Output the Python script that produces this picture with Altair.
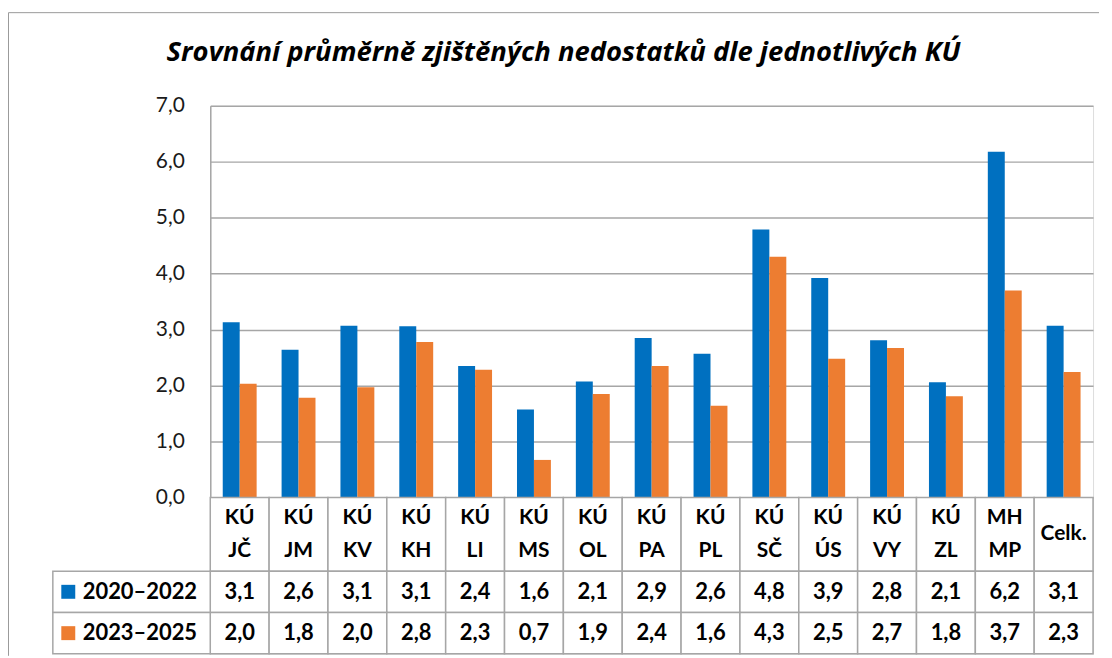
import altair as alt
import pandas as pd

categories = ["KÚ JČ", "KÚ JM", "KÚ KV", "KÚ KH", "KÚ LI", "KÚ MS", "KÚ OL", "KÚ PA",
              "KÚ PL", "KÚ SČ", "KÚ ÚS", "KÚ VY", "KÚ ZL", "MH MP", "Celk."]
series_names = ["2020–2022", "2023–2025"]
values_2020_2022 = [3.13, 2.64, 3.07, 3.06, 2.35, 1.57, 2.07, 2.85, 2.57, 4.79, 3.92, 2.81, 2.06, 6.18, 3.07]
values_2023_2025 = [2.03, 1.78, 1.97, 2.78, 2.28, 0.67, 1.85, 2.35, 1.64, 4.30, 2.48, 2.67, 1.81, 3.70, 2.24]
table_2020_2022 = ["3,1", "2,6", "3,1", "3,1", "2,4", "1,6", "2,1", "2,9", "2,6", "4,8", "3,9", "2,8", "2,1", "6,2", "3,1"]
table_2023_2025 = ["2,0", "1,8", "2,0", "2,8", "2,3", "0,7", "1,9", "2,4", "1,6", "4,3", "2,5", "2,7", "1,8", "3,7", "2,3"]
y_ticks = [0, 1, 2, 3, 4, 5, 6, 7]
colors = ["#0070C0", "#ED7D31"]
title_text = "Srovnání průměrně zjištěných nedostatků dle jednotlivých KÚ"

# layout constants (pixels)
W = 886
PLOT_H = 393
CAT_H = 74
ROWS_H = 83
H = PLOT_H + CAT_H + ROWS_H
LEG_W = 158
LINE_H = 33.5
GRID = "#a6a6a6"
FONT = "Lato"

bar_df = pd.DataFrame(
    [{"cat": c, "series": series_names[0], "value": v} for c, v in zip(categories, values_2020_2022)]
    + [{"cat": c, "series": series_names[1], "value": v} for c, v in zip(categories, values_2023_2025)]
)
tab_df = pd.DataFrame(
    [{"cat": c, "series": series_names[0], "label": t} for c, t in zip(categories, table_2020_2022)]
    + [{"cat": c, "series": series_names[1], "label": t} for c, t in zip(categories, table_2023_2025)]
)
cat_df = pd.DataFrame({"cat": categories})
cat_df["line1"] = [c.split(" ")[0] if " " in c else "" for c in categories]
cat_df["line2"] = [c.split(" ")[1] if " " in c else "" for c in categories]
cat_df["single"] = [c if " " not in c else "" for c in categories]
leg_df = pd.DataFrame({"series": series_names})
one = pd.DataFrame({"title": [title_text]})

color = alt.Color("series:N", sort=series_names,
                  scale=alt.Scale(domain=series_names, range=colors), legend=None)
x_bar = alt.X("cat:N", sort=categories,
              scale=alt.Scale(paddingInner=0.424, paddingOuter=0.212), axis=None)
x_tab = alt.X("cat:N", sort=categories,
              scale=alt.Scale(type="band", paddingInner=0, paddingOuter=0), axis=None)
y_rows = alt.Y("series:N", sort=series_names,
               scale=alt.Scale(type="band", range=[PLOT_H + CAT_H, H], paddingInner=0, paddingOuter=0),
               axis=None)

bars = alt.Chart(bar_df).mark_bar().encode(
    x=x_bar,
    xOffset=alt.XOffset("series:N", sort=series_names,
                        scale=alt.Scale(paddingInner=0, paddingOuter=0)),
    y=alt.Y("value:Q",
            scale=alt.Scale(domain=[0, 7], range=[PLOT_H, 0], nice=False, zero=True),
            axis=alt.Axis(values=y_ticks, title=None, grid=True, gridColor=GRID, gridWidth=1.5,
                          domain=True, domainColor=GRID, domainWidth=1.5,
                          ticks=False, tickSize=0, labelPadding=26,
                          labelFont=FONT, labelFontSize=21, labelColor="#1a1a1a",
                          labelExpr="replace(format(datum.value, '.1f'), '.', ',')")),
    color=color,
)

cat_cells = alt.Chart(cat_df).mark_rect(fill="white", stroke=GRID, strokeWidth=1.5).encode(
    x=x_tab, y=alt.value(PLOT_H), y2=alt.value(PLOT_H + CAT_H)
)
cat_style = dict(font=FONT, fontSize=21, fontWeight="bold", color="black",
                 baseline="middle", align="center")
cat_text1 = alt.Chart(cat_df).mark_text(**cat_style).encode(
    x=x_tab, y=alt.value(PLOT_H + CAT_H / 2 - LINE_H / 2), text="line1:N")
cat_text2 = alt.Chart(cat_df).mark_text(**cat_style).encode(
    x=x_tab, y=alt.value(PLOT_H + CAT_H / 2 + LINE_H / 2), text="line2:N")
cat_text3 = alt.Chart(cat_df).mark_text(**cat_style).encode(
    x=x_tab, y=alt.value(PLOT_H + CAT_H / 2), text="single:N")

row_cells = alt.Chart(tab_df).mark_rect(fill="white", stroke=GRID, strokeWidth=1.5).encode(
    x=x_tab, y=y_rows
)
row_text = alt.Chart(tab_df).mark_text(
    font=FONT, fontSize=22, fontWeight="bold", color="black", baseline="middle", align="center"
).encode(x=x_tab, y=y_rows, text="label:N")

leg_cells = alt.Chart(leg_df).mark_rect(fill="white", stroke=GRID, strokeWidth=1.5).encode(
    x=alt.value(-LEG_W), x2=alt.value(0), y=y_rows
)
leg_sq = alt.Chart(leg_df).mark_square(size=196, opacity=1).encode(
    x=alt.value(-LEG_W + 15.5), y=y_rows, color=color
)
leg_text = alt.Chart(leg_df).mark_text(
    font=FONT, fontSize=22, fontWeight="bold", color="black", align="left", baseline="middle"
).encode(x=alt.value(-LEG_W + 30), y=y_rows, text="series:N")

border_top = alt.Chart(one).mark_rule(color="#9a9a9a", strokeWidth=1).encode(
    x=alt.value(-202.5), x2=alt.value(W + 6), y=alt.value(-93.5)
)
border_left = alt.Chart(one).mark_rule(color="#9a9a9a", strokeWidth=1).encode(
    x=alt.value(-202.5), y=alt.value(-93.5), y2=alt.value(H + 2)
)
title = alt.Chart(one).mark_text(
    font="Open Sans", fontSize=27.5, fontStyle="italic", fontWeight="bold", color="black",
    align="center", baseline="alphabetic"
).encode(x=alt.value(354.5), y=alt.value(-45), text="title:N")

chart = alt.layer(
    border_top, border_left, title, bars, cat_cells, cat_text1, cat_text2, cat_text3,
    row_cells, row_text, leg_cells, leg_sq, leg_text
).resolve_scale(
    x="independent", y="independent"
).properties(
    width=W, height=H,
    padding={"left": 0, "top": 3, "right": 4, "bottom": 0},
).configure_view(stroke=None).configure(background="white")

chart.save("out.html", embed_options={"renderer": "svg", "actions": False})
